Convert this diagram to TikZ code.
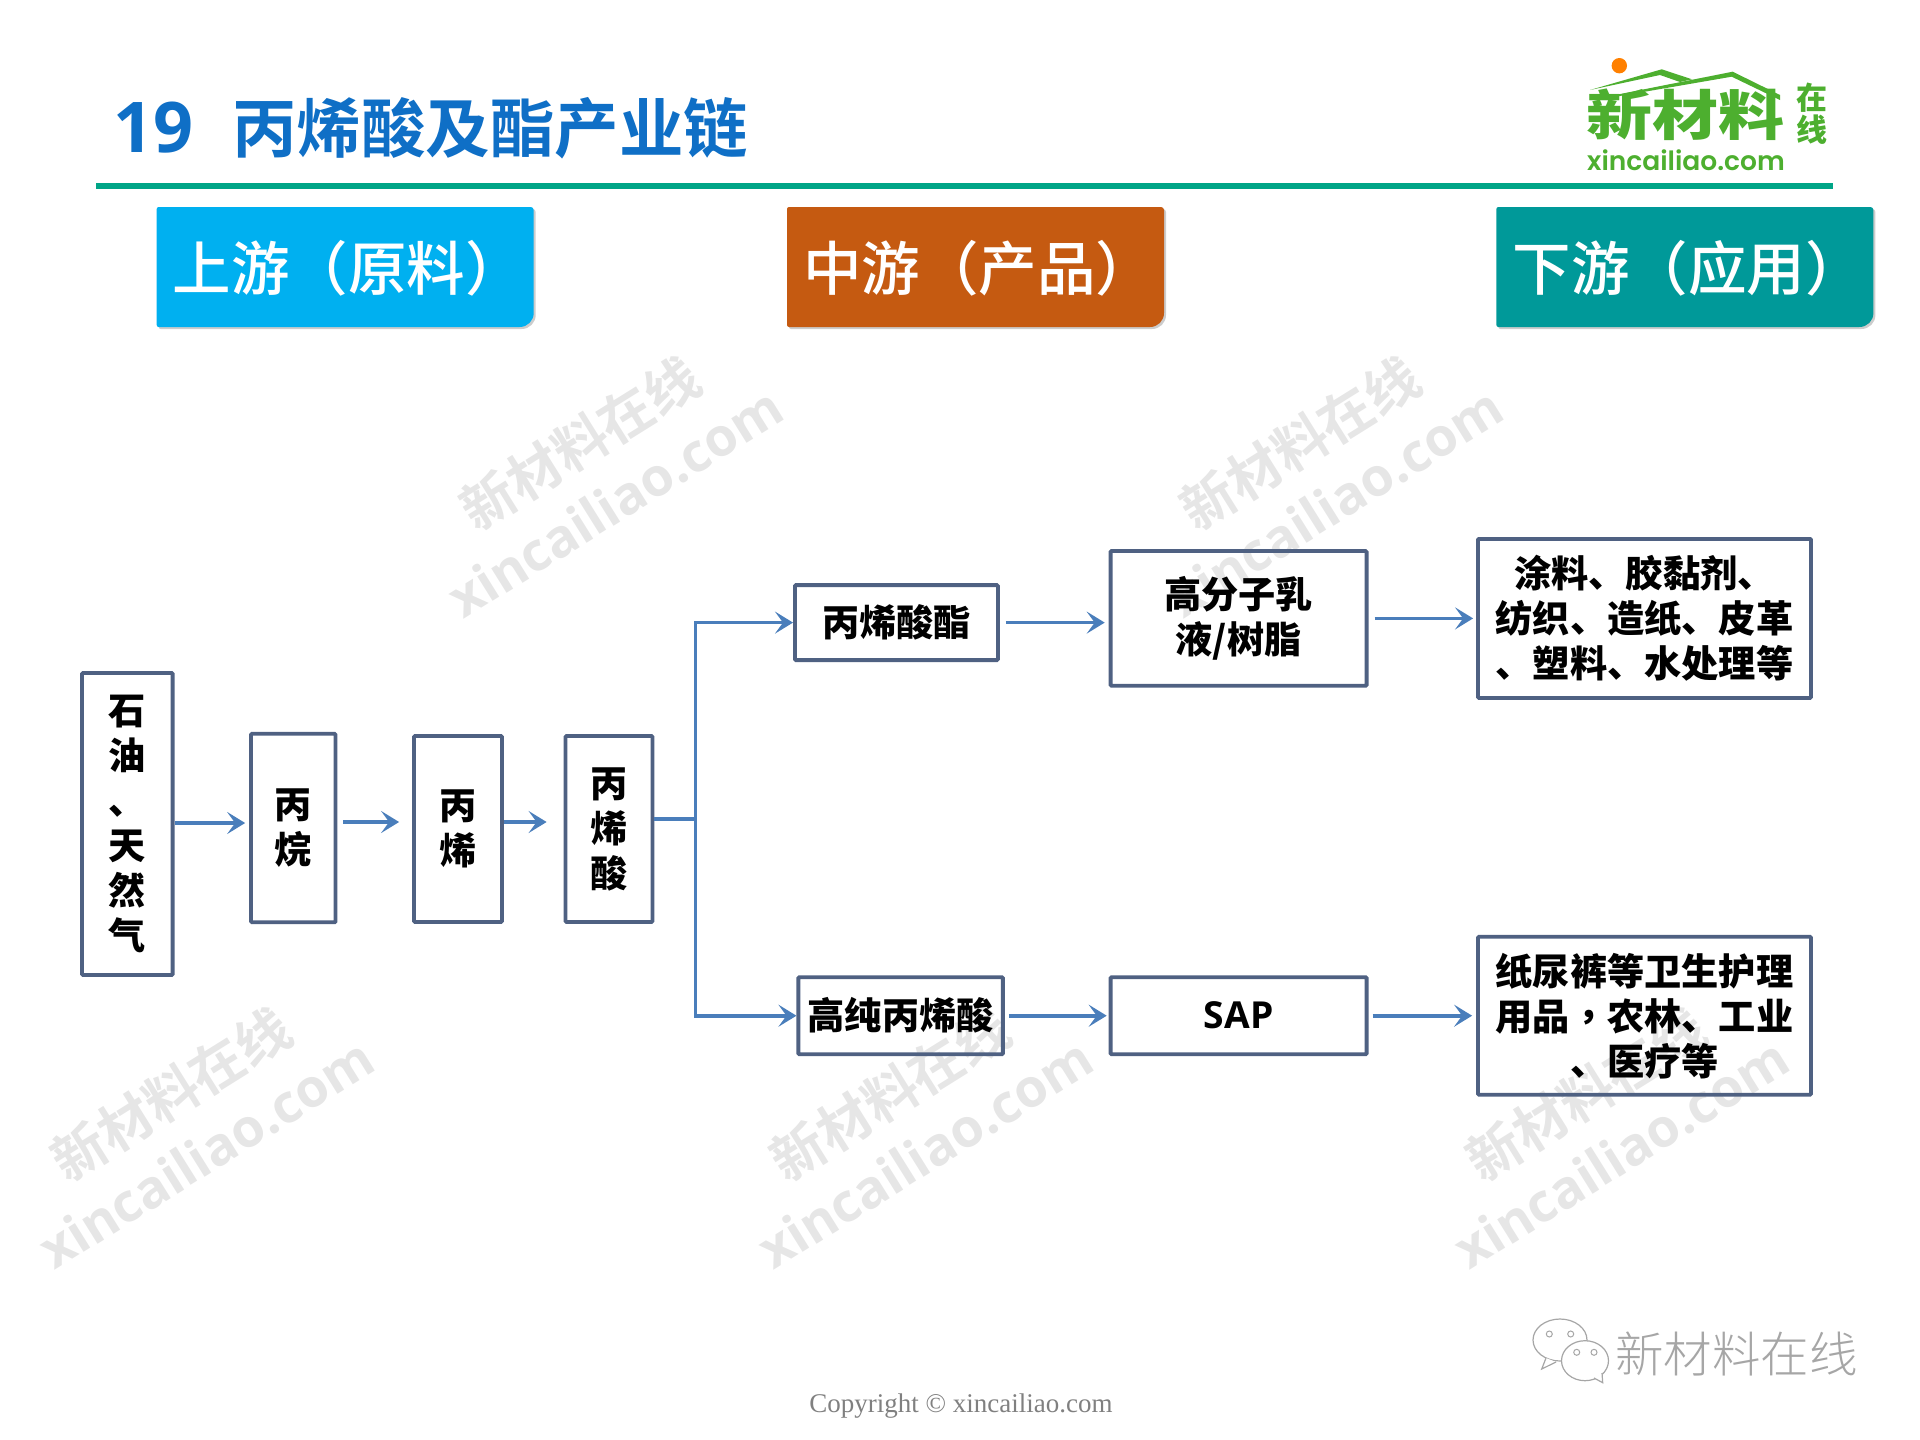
\documentclass[tikz,border=0pt]{standalone}
\usepackage{fontspec}
\usepackage{xcolor}
\setmainfont{Noto Sans CJK SC}[BoldFont=Noto Sans CJK SC Bold]
\newfontfamily\heavyfont{Noto Sans CJK SC Black}
\newfontfamily\midfont{Noto Sans CJK SC Medium}
\newfontfamily\thinfont{Noto Sans CJK SC Light}
\newfontfamily\tcfont{Noto Sans CJK TC Black}
\newfontfamily\latinbold{Open Sans}[BoldFont=Open Sans Bold]
\newfontfamily\logofont{Poppins}[BoldFont=Poppins SemiBold]
\newfontfamily\copyfont{Liberation Serif}
\usetikzlibrary{arrows.meta,shadows}
\definecolor{boxline}{HTML}{4F6182}
\definecolor{flowblue}{HTML}{4A7EBB}
\definecolor{titleblue}{HTML}{0F6FC6}
\definecolor{ruleteal}{HTML}{00A587}
\definecolor{upblue}{HTML}{00B0F0}
\definecolor{midorange}{HTML}{C55A11}
\definecolor{downteal}{HTML}{009999}
\definecolor{logogreen}{HTML}{4DAF2F}
\definecolor{markgrey}{HTML}{E6E6E6}
\begin{document}
\begin{tikzpicture}[x=1pt, y=-1pt,
    main/.style={rectangle, draw=boxline, line width=3.8pt, rounded corners=1pt, font=\fontsize{37.2}{45}\selectfont\heavyfont, align=center, inner sep=0pt, text=black},
    flow/.style={draw=flowblue, line width=3.7pt, -{Stealth[length=18pt, width=22pt, inset=8pt]}},
    head/.style={fill=#1, drop shadow={shadow xshift=2pt, shadow yshift=-2pt, fill=black!40}},
    headtext/.style={anchor=west, text=white, font=\fontsize{58.5}{58.5}\selectfont\midfont},
    stamp/.style={text=markgrey, rotate=32, inner sep=0pt, font=\fontsize{54}{60}\selectfont\bfseries}]
    \useasboundingbox (0,0) rectangle (1920,1440);

    \foreach \mx/\my [count=\i] in {580/443, 1300/443, 171/1094, 890/1094, 1586/1094} {
        \node[stamp] (cn\i) at (\mx,\my) {新材料在线};
        \node[stamp, font=\fontsize{53}{60}\selectfont\latinbold\bfseries] (en\i) at (\mx+35,\my+59) {xincailiao.com};
    }

    \node[anchor=west, text=titleblue, font=\fontsize{70}{70}\selectfont\latinbold\bfseries, inner sep=0pt] (num) at (113,128) {19};
    \node[anchor=west, text=titleblue, font=\fontsize{64.5}{64.5}\selectfont\bfseries, inner sep=0pt] (title) at (232,128) {丙烯酸及酯产业链};
    \fill[ruleteal] (95.5,183) rectangle (1833,189);

    \foreach \hx/\hc/\hlabel [count=\i] in {156.7/upblue/上游（原料）, 787/midorange/中游（产品）, 1496.4/downteal/下游（应用）} {
        \path[head=\hc] (\hx,207) [rounded corners=3pt] -- (\hx+377,207) [rounded corners=14pt] -- (\hx+377,327) [rounded corners=2pt] -- (\hx,327) -- cycle;
        \node[headtext, inner sep=0pt] (head\i) at (\hx+16,268) {\hlabel};
    }

    \node[main, minimum width=90.6pt, minimum height=302pt] (oil) at (127.3,824) {石\\油\\、\\天\\然\\气};
    \node[main, minimum width=84.5pt, minimum height=188.5pt] (propane) at (293.3,828) {丙\\烷};
    \node[main, minimum width=88pt, minimum height=186pt] (propene) at (458,829) {丙\\烯};
    \node[main, minimum width=87pt, minimum height=186pt] (acid) at (609,829) {丙\\烯\\酸};
    \node[main, minimum width=203pt, minimum height=75pt] (ester) at (896.4,622.6) {丙烯酸酯};
    \node[main, minimum width=204.5pt, minimum height=77pt] (pure) at (900.6,1015.7) {高纯丙烯酸};
    \node[main, minimum width=256pt, minimum height=134.7pt] (latex) at (1238.6,618.4) {高分子乳\\液/树脂};
    \node[main, minimum width=256pt, minimum height=77pt] (sap) at (1238.6,1015.7) {\latinbold\bfseries SAP};
    \node[main, minimum width=333pt, minimum height=159pt] (use1) at (1644.5,618.4) {涂料、胶黏剂、\\纺织、造纸、皮革\\、塑料、水处理等};
    \node[main, minimum width=333pt, minimum height=158pt] (use2) at (1644.5,1015.7) {纸尿裤等卫生护理\\用品{\tcfont，}农林、工业\\、医疗等};
    \coordinate (bus) at (695.5,819);

    \draw[flow, shorten >=4pt] ([yshift=1pt]oil.east) -- ([yshift=1pt]propane.west |- oil.east);
    \draw[flow, shorten <=6pt, shorten >=13pt] ([yshift=6pt]propane.east) -- ([yshift=7pt]propene.west);
    \draw[flow, shorten >=17pt] ([yshift=7pt]propene.east) -- ([yshift=7pt]acid.west);
    \draw[draw=flowblue, line width=3.7pt] (acid.east |- bus) -- (bus);
    \draw[flow] (bus) |- (ester.west);
    \draw[flow] (bus) |- (pure.west);
    \draw[flow, shorten <=6pt, shorten >=4pt] (ester.east) -- (latex.west |- ester.east);
    \draw[flow, shorten <=6pt, shorten >=3pt] (latex) -- (use1);
    \draw[flow, shorten <=4pt, shorten >=2pt] (pure) -- (sap);
    \draw[flow, shorten <=4pt, shorten >=4pt] (sap) -- (use2);

    \fill[logogreen] (1590,90) -- (1661.7,69.3) -- (1692,79.3) -- (1680,82) -- (1660,75) -- cycle;
    \fill[logogreen] (1606.7,96.7) -- (1732.7,71.7) -- (1780,95) -- (1780,100) -- (1731.7,76.7) -- (1606.7,98.3) -- cycle;
    \node[circle, fill=orange, minimum size=15.4pt, inner sep=0pt] (sun) at (1619.3,65.7) {};
    \node[text=logogreen, font=\fontsize{66}{66}\selectfont\heavyfont, inner sep=0pt, transform shape, yscale=.82] (logo) at (1685,115) {新材料};
    \node[text=logogreen, font=\fontsize{31}{32}\selectfont\heavyfont, align=center, inner sep=0pt] (online) at (1812,114) {在\\线};
    \node[text=logogreen, font=\fontsize{26.5}{26}\selectfont\logofont\bfseries, inner sep=0pt] (site) at (1686,160) {xincailiao.com};

    \draw[gray!70, fill=white, line width=1.2pt] (1560,1340) ellipse (27 and 21);
    \draw[gray!70, fill=white, line width=1.2pt] (1546,1358) -- (1541.7,1369) -- (1556,1362);
    \draw[gray!70, fill=white, line width=1.2pt] (1585,1360.7) ellipse (23.5 and 20);
    \draw[gray!70, fill=white, line width=1.2pt] (1594,1378) -- (1602.7,1382.7) -- (1602,1373);
    \foreach \ex/\ey in {1549.3/1334, 1570.7/1334, 1576.7/1352.3, 1594/1352.3} {
        \draw[gray!70, line width=1pt] (\ex,\ey) circle (3);
    }
    \node[text=gray!70, font=\fontsize{48.5}{48}\selectfont\thinfont, inner sep=0pt] (wechat) at (1736.5,1354) {新材料在线};

    \node[text=gray, font=\fontsize{27}{28}\selectfont\copyfont, inner sep=0pt] (copy) at (961,1406) {Copyright © xincailiao.com};
\end{tikzpicture}
\end{document}
